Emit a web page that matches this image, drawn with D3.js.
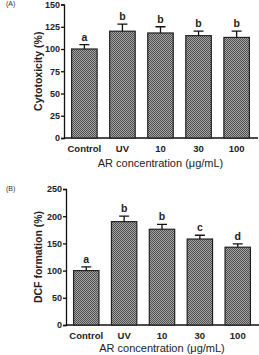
<!DOCTYPE html>
<html><head><meta charset="utf-8">
<script src="https://cdn.jsdelivr.net/npm/d3@7"></script>
<style>body{margin:0;background:#fff}svg{display:block}text{font-family:"Liberation Sans",Arial,sans-serif}</style>
</head><body>
<svg id="c" width="259" height="355"></svg>
<script>
const categories = ["Control","UV","10","30","100"];
const cytoValues = [100,120,118,115,113];
const cytoErrors = [5,8,7,5,7];
const cytoLetters = ["a","b","b","b","b"];
const cytoTicks = [0,25,50,75,100,125,150];
const dcfValues = [100,190,176,158,143];
const dcfErrors = [7,10,9,7,6];
const dcfLetters = ["a","b","b","c","d"];
const dcfTicks = [0,50,100,150,200,250];

const svg = d3.select("#c");
const defs = svg.append("defs");
const pat = defs.append("pattern").attr("id","chk").attr("width",2).attr("height",2).attr("patternUnits","userSpaceOnUse");
pat.append("rect").attr("width",2).attr("height",2).attr("fill","#a4a4a4");
pat.append("rect").attr("width",1).attr("height",1).attr("fill","#505050");
pat.append("rect").attr("x",1).attr("y",1).attr("width",1).attr("height",1).attr("fill","#505050");

function panel(o){
  const g = svg.append("g");
  const x = d3.scaleBand().domain(categories).range([o.x0,o.x1]).paddingInner(0.33).paddingOuter(0.2);
  const y = d3.scaleLinear().domain([0,o.max]).range([o.y0,o.y1]);
  const yAx = g.append("g").attr("transform",`translate(${o.x0},0)`)
    .call(d3.axisLeft(y).tickValues(o.ticks).tickSize(3).tickPadding(1));
  yAx.selectAll("path,line").attr("stroke","#111").attr("stroke-width",1.3);
  yAx.selectAll("text").attr("font-size",9).attr("font-weight","bold").attr("fill","#222").style("font-family","Liberation Sans, Arial");
  const xAx = g.append("g").attr("transform",`translate(0,${o.y0})`)
    .call(d3.axisBottom(x).tickSize(0).tickPadding(7));
  xAx.select("path").attr("d",`M${o.x0},0H${o.x1+1}`).attr("stroke","#111").attr("stroke-width",1.3);
  xAx.selectAll("text").attr("font-size",9.5).attr("font-weight","bold").attr("fill","#222").style("font-family","Liberation Sans, Arial");
  const bars = g.selectAll(".b").data(o.vals).enter();
  bars.append("rect")
    .attr("x",(d,i)=>x(categories[i])).attr("width",x.bandwidth())
    .attr("y",d=>y(d)).attr("height",d=>o.y0-y(d))
    .attr("fill","url(#chk)").attr("stroke","#222").attr("stroke-width",1.2);
  bars.append("path")
    .attr("d",(d,i)=>{const cx=x(categories[i])+x.bandwidth()/2; const t=y(d+o.errs[i]);
      return `M${cx},${y(d)}V${t}M${cx-5},${t}H${cx+5}`;})
    .attr("stroke","#111").attr("stroke-width",1.3).attr("fill","none");
  bars.append("text")
    .attr("x",(d,i)=>x(categories[i])+x.bandwidth()/2)
    .attr("y",(d,i)=>y(d+o.errs[i])-4)
    .attr("text-anchor","middle").attr("font-size",10.5).attr("font-weight","bold").attr("fill","#222")
    .text((d,i)=>o.letters[i]);
  g.append("text").attr("transform",`translate(${o.ylx},${(o.y0+o.y1)/2}) rotate(-90)`)
    .attr("text-anchor","middle").attr("font-size",10.5).attr("font-weight","bold").attr("fill","#222").text(o.ylabel);
  g.append("text").attr("x",(o.x0+o.x1)/2).attr("y",o.xty)
    .attr("text-anchor","middle").attr("font-size",11).attr("fill","#222").text("AR concentration (μg/mL)");
  g.append("text").attr("x",o.px).attr("y",o.py).attr("font-size",7).attr("fill","#333").text(o.panel);
}

panel({x0:64,x1:257,y0:138,y1:4.5,max:150,ticks:cytoTicks,vals:cytoValues,errs:cytoErrors,letters:cytoLetters,
  ylabel:"Cytotoxicity (%)",ylx:42,xty:167,panel:"(A)",px:6,py:6});
panel({x0:66,x1:258,y0:325,y1:189,max:250,ticks:dcfTicks,vals:dcfValues,errs:dcfErrors,letters:dcfLetters,
  ylabel:"DCF formation (%)",ylx:42,xty:352,panel:"(B)",px:6,py:191});
</script>
</body></html>
